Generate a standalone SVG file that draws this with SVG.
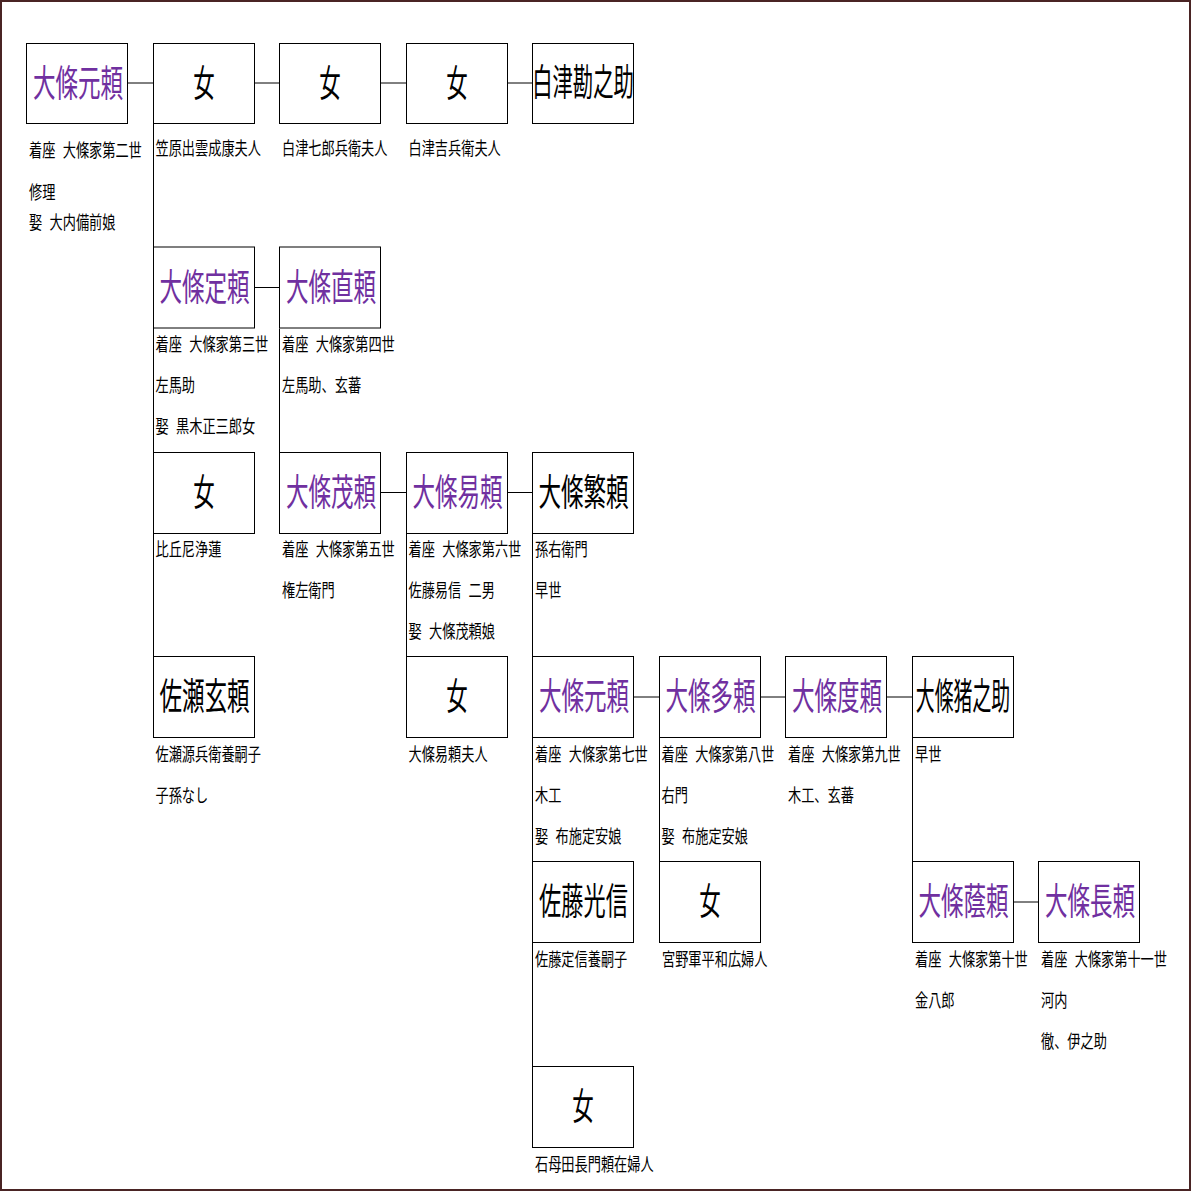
<svg xmlns="http://www.w3.org/2000/svg" width="1192" height="1192" viewBox="0 0 1192 1192">
<style>
.b{fill:#fff;stroke:#000;stroke-width:1}
.c line{stroke:#000;stroke-width:1}
.nm{font-family:"Noto Sans CJK JP","Noto Sans CJK SC",sans-serif;font-size:37px;text-anchor:middle;fill:#000}
.p{fill:#7030A0}
.s{font-family:"Noto Sans CJK JP","Noto Sans CJK SC",sans-serif;font-size:18px;fill:#000}
</style>
<rect x="1" y="1" width="1189" height="1189" fill="#fff" stroke="#4a2424" stroke-width="2"/>
<g class="c" id="connectors">
<line x1="127.5" y1="83" x2="153.5" y2="83"/>
<line x1="254.5" y1="83" x2="279.5" y2="83"/>
<line x1="380.5" y1="83" x2="406.5" y2="83"/>
<line x1="507.5" y1="83" x2="532.5" y2="83"/>
<line x1="153.5" y1="124" x2="153.5" y2="656.5"/>
<line x1="254.5" y1="287.5" x2="279.5" y2="287.5"/>
<line x1="279.5" y1="328.5" x2="279.5" y2="452.5"/>
<line x1="380.5" y1="492.5" x2="406.5" y2="492.5"/>
<line x1="507.5" y1="492.5" x2="532.5" y2="492.5"/>
<line x1="406.5" y1="533.5" x2="406.5" y2="656.5"/>
<line x1="532.5" y1="533.5" x2="532.5" y2="1066.5"/>
<line x1="633.5" y1="697" x2="659.5" y2="697"/>
<line x1="760.5" y1="697" x2="785.5" y2="697"/>
<line x1="886.5" y1="697" x2="912.5" y2="697"/>
<line x1="659.5" y1="737.5" x2="659.5" y2="861.5"/>
<line x1="912.5" y1="737.5" x2="912.5" y2="861.5"/>
<line x1="1013.5" y1="902" x2="1038.5" y2="902"/>
</g>

<g id="n_motoyori1">
<rect class="b" x="26.5" y="43.5" width="101" height="80"/>
<text class="nm p" transform="translate(78,96.5) scale(0.61,1)">大條元頼</text>
<text class="s" transform="translate(29,157) scale(0.733,1)">着座 <tspan dx="6">大條家第二世</tspan></text>
<text class="s" transform="translate(29,199) scale(0.733,1)">修理</text>
<text class="s" transform="translate(29,229) scale(0.733,1)">娶 <tspan dx="6">大内備前娘</tspan></text>
</g>
<g id="n_onna1">
<rect class="b" x="153.5" y="43.5" width="101" height="80"/>
<text class="nm" transform="translate(204,96.5) scale(0.58,1)">女</text>
<text class="s" transform="translate(155.5,155) scale(0.733,1)">笠原出雲成康夫人</text>
</g>
<g id="n_onna2">
<rect class="b" x="279.5" y="43.5" width="101" height="80"/>
<text class="nm" transform="translate(330,96.5) scale(0.58,1)">女</text>
<text class="s" transform="translate(282,155) scale(0.733,1)">白津七郎兵衛夫人</text>
</g>
<g id="n_onna3">
<rect class="b" x="406.5" y="43.5" width="101" height="80"/>
<text class="nm" transform="translate(457,96.5) scale(0.58,1)">女</text>
<text class="s" transform="translate(408.5,155) scale(0.733,1)">白津吉兵衛夫人</text>
</g>
<g id="n_shirazu">
<rect class="b" x="532.5" y="43.5" width="101" height="80"/>
<text class="nm" transform="translate(583,96) scale(0.55,1)">白津勘之助</text>
</g>

<g id="n_sadayori">
<rect class="b" x="153.5" y="247" width="101" height="81"/>
<text class="nm p" transform="translate(204.5,300.5) scale(0.61,1)">大條定頼</text>
<text class="s" transform="translate(155.5,351) scale(0.733,1)">着座 <tspan dx="6">大條家第三世</tspan></text>
<text class="s" transform="translate(155.5,392) scale(0.733,1)">左馬助</text>
<text class="s" transform="translate(155.5,433) scale(0.733,1)">娶 <tspan dx="6">黒木正三郎女</tspan></text>
</g>
<g id="n_naoyori">
<rect class="b" x="279.5" y="247" width="101" height="81"/>
<text class="nm p" transform="translate(331,300.5) scale(0.61,1)">大條直頼</text>
<text class="s" transform="translate(282,351) scale(0.733,1)">着座 <tspan dx="6">大條家第四世</tspan></text>
<text class="s" transform="translate(282,392) scale(0.733,1)">左馬助、玄蕃</text>
</g>

<g id="n_onna4">
<rect class="b" x="153.5" y="452.5" width="101" height="81"/>
<text class="nm" transform="translate(204,506) scale(0.58,1)">女</text>
<text class="s" transform="translate(155.5,556) scale(0.733,1)">比丘尼浄蓮</text>
</g>
<g id="n_shigeyori">
<rect class="b" x="279.5" y="452.5" width="101" height="81"/>
<text class="nm p" transform="translate(331,506) scale(0.61,1)">大條茂頼</text>
<text class="s" transform="translate(282,556) scale(0.733,1)">着座 <tspan dx="6">大條家第五世</tspan></text>
<text class="s" transform="translate(282,597) scale(0.733,1)">権左衛門</text>
</g>
<g id="n_yasuyori">
<rect class="b" x="406.5" y="452.5" width="101" height="81"/>
<text class="nm p" transform="translate(457.5,506) scale(0.61,1)">大條易頼</text>
<text class="s" transform="translate(408.5,556) scale(0.733,1)">着座 <tspan dx="6">大條家第六世</tspan></text>
<text class="s" transform="translate(408.5,597) scale(0.733,1)">佐藤易信 <tspan dx="6">二男</tspan></text>
<text class="s" transform="translate(408.5,638) scale(0.733,1)">娶 <tspan dx="6">大條茂頼娘</tspan></text>
</g>
<g id="n_shigeyori2">
<rect class="b" x="532.5" y="452.5" width="101" height="81"/>
<text class="nm" transform="translate(583.5,506) scale(0.61,1)">大條繁頼</text>
<text class="s" transform="translate(535,556) scale(0.733,1)">孫右衛門</text>
<text class="s" transform="translate(535,597) scale(0.733,1)">早世</text>
</g>

<g id="n_sase">
<rect class="b" x="153.5" y="656.5" width="101" height="81"/>
<text class="nm" transform="translate(204.5,710) scale(0.61,1)">佐瀬玄頼</text>
<text class="s" transform="translate(155.5,760.5) scale(0.733,1)">佐瀬源兵衛養嗣子</text>
<text class="s" transform="translate(155.5,801.5) scale(0.733,1)">子孫なし</text>
</g>
<g id="n_onna5">
<rect class="b" x="406.5" y="656.5" width="101" height="81"/>
<text class="nm" transform="translate(457,710) scale(0.58,1)">女</text>
<text class="s" transform="translate(408.5,760.5) scale(0.733,1)">大條易頼夫人</text>
</g>
<g id="n_motoyori2">
<rect class="b" x="532.5" y="656.5" width="101" height="81"/>
<text class="nm p" transform="translate(584,710) scale(0.61,1)">大條元頼</text>
<text class="s" transform="translate(535,760.5) scale(0.733,1)">着座 <tspan dx="6">大條家第七世</tspan></text>
<text class="s" transform="translate(535,801.5) scale(0.733,1)">木工</text>
<text class="s" transform="translate(535,842.5) scale(0.733,1)">娶 <tspan dx="6">布施定安娘</tspan></text>
</g>
<g id="n_kazuyori">
<rect class="b" x="659.5" y="656.5" width="101" height="81"/>
<text class="nm p" transform="translate(710.5,710) scale(0.61,1)">大條多頼</text>
<text class="s" transform="translate(661.5,760.5) scale(0.733,1)">着座 <tspan dx="6">大條家第八世</tspan></text>
<text class="s" transform="translate(661.5,801.5) scale(0.733,1)">右門</text>
<text class="s" transform="translate(661.5,842.5) scale(0.733,1)">娶 <tspan dx="6">布施定安娘</tspan></text>
</g>
<g id="n_noriyori">
<rect class="b" x="785.5" y="656.5" width="101" height="81"/>
<text class="nm p" transform="translate(837,710) scale(0.61,1)">大條度頼</text>
<text class="s" transform="translate(788,760.5) scale(0.733,1)">着座 <tspan dx="6">大條家第九世</tspan></text>
<text class="s" transform="translate(788,801.5) scale(0.733,1)">木工、玄蕃</text>
</g>
<g id="n_inonosuke">
<rect class="b" x="912.5" y="656.5" width="101" height="81"/>
<text class="nm" transform="translate(963,710) scale(0.51,1)">大條猪之助</text>
<text class="s" transform="translate(915,760.5) scale(0.733,1)">早世</text>
</g>

<g id="n_sato">
<rect class="b" x="532.5" y="861.5" width="101" height="81"/>
<text class="nm" transform="translate(583.5,915) scale(0.6,1)">佐藤光信</text>
<text class="s" transform="translate(535,965.5) scale(0.733,1)">佐藤定信養嗣子</text>
</g>
<g id="n_onna6">
<rect class="b" x="659.5" y="861.5" width="101" height="81"/>
<text class="nm" transform="translate(710,915) scale(0.58,1)">女</text>
<text class="s" transform="translate(662,965.5) scale(0.733,1)">宮野軍平和広婦人</text>
</g>
<g id="n_kageyori">
<rect class="b" x="912.5" y="861.5" width="101" height="81"/>
<text class="nm p" transform="translate(963.5,915) scale(0.61,1)">大條蔭頼</text>
<text class="s" transform="translate(915,965.5) scale(0.733,1)">着座 <tspan dx="6">大條家第十世</tspan></text>
<text class="s" transform="translate(915,1006.5) scale(0.733,1)">金八郎</text>
</g>
<g id="n_nagayori">
<rect class="b" x="1038.5" y="861.5" width="101" height="81"/>
<text class="nm p" transform="translate(1090,915) scale(0.61,1)">大條長頼</text>
<text class="s" transform="translate(1041,965.5) scale(0.733,1)">着座 <tspan dx="6">大條家第十一世</tspan></text>
<text class="s" transform="translate(1041,1006.5) scale(0.733,1)">河内</text>
<text class="s" transform="translate(1041,1047.5) scale(0.733,1)">徹、伊之助</text>
</g>

<g id="n_onna7">
<rect class="b" x="532.5" y="1066.5" width="101" height="81"/>
<text class="nm" transform="translate(583,1120) scale(0.58,1)">女</text>
<text class="s" transform="translate(535,1170.5) scale(0.733,1)">石母田長門頼在婦人</text>
</g>
</svg>
